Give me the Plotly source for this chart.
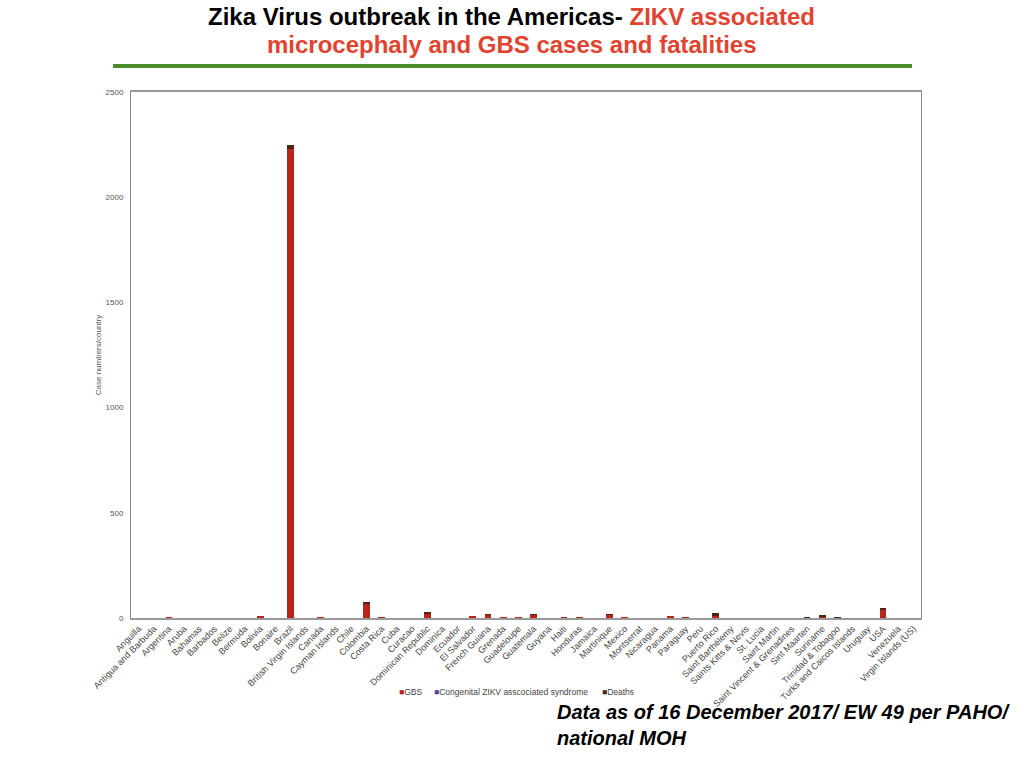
import plotly.graph_objs as go

countries = [
    "Anguilla", "Antigua and Barbuda", "Argentina", "Aruba", "Bahamas", "Barbados",
    "Belize", "Bermuda", "Bolivia", "Bonaire", "Brazil", "British Virgin Islands",
    "Canada", "Cayman Islands", "Chile", "Colombia", "Costa Rica", "Cuba", "Curacao",
    "Dominican Republic", "Dominica", "Ecuador", "El Salvador", "French Guiana",
    "Grenada", "Guadeloupe", "Guatemala", "Guyana", "Haiti", "Honduras", "Jamaica",
    "Martinique", "Mexico", "Montserrat", "Nicaragua", "Panama", "Paraguay", "Peru",
    "Puerto Rico", "Saint Barthélemy", "Saints Kitts & Nevis", "St. Lucia",
    "Saint Martin", "Saint Vincent & Grenadines", "Sint Maarten", "Suriname",
    "Trinidad & Tobagoo", "Turks and Caicos Islands", "Uruguay", "USA", "Venezuela",
    "Virgin Islands (US)",
]

# GBS cases per country
gbs = [0, 0, 2, 0, 0, 0, 0, 0, 9, 0, 2230, 0,
       2, 0, 0, 70, 2, 0, 0, 23, 0, 0, 6, 17,
       2, 2, 17, 0, 2, 2, 0, 17, 2, 0, 0, 6, 2, 0,
       14, 0, 0, 0, 0, 0, 1, 6, 1, 0, 0, 38, 0, 0]

# congenital ZIKV associated syndrome (not visible at this scale)
congenital = [0] * len(countries)

# deaths
deaths = [0, 0, 0, 0, 0, 0, 0, 0, 0, 0, 20, 0,
          0, 0, 0, 2, 0, 0, 0, 1, 0, 0, 0, 1,
          0, 0, 1, 0, 0, 0, 0, 1, 0, 0, 0, 0, 0, 0,
          8, 0, 0, 0, 0, 0, 1, 10, 1, 0, 0, 8, 0, 0]

y_ticks = [0, 500, 1000, 1500, 2000, 2500]

series_names = ["GBS", "Congenital ZIKV asscociated syndrome", "Deaths"]
series_colors = ["#b8261b", "#5b3f96", "#4e2412"]

fig = go.Figure()
for name, vals, color in zip(series_names, [gbs, congenital, deaths], series_colors):
    fig.add_trace(go.Bar(x=countries, y=vals, name=name, showlegend=False,
                         marker=dict(color=color, line=dict(width=0))))

fig.update_layout(
    barmode="stack",
    bargap=0.55,
    width=1024,
    height=768,
    margin=dict(l=131, r=103, t=92, b=150),
    paper_bgcolor="white",
    plot_bgcolor="white",
    font=dict(family="Liberation Sans, Arial, sans-serif", color="#555555", size=8),
)

fig.update_yaxes(
    range=[0, 2500], tickvals=y_ticks, showgrid=False, zeroline=False,
    showline=True, linecolor="#888888", linewidth=1, mirror=True, ticks="",
    ticklabelstandoff=5, tickfont=dict(size=8, color="#555555"),
    title=dict(text="Case numbers/country", font=dict(size=8, color="#555555"), standoff=2),
)
fig.update_xaxes(
    tickangle=-45, showgrid=False, showline=True, linecolor="#999999", linewidth=2,
    mirror=True, ticks="", tickfont=dict(size=9, color="#444444"),
)

# small legend with square keys, like the original
legend_x = [0.3367, 0.381, 0.5937]
for name, color, lx in zip(series_names, series_colors, legend_x):
    fig.add_annotation(
        xref="paper", yref="paper", x=lx, y=-0.1407, xanchor="left", yanchor="middle",
        text=f"<span style='color:{color}'>■</span>{name}", showarrow=False,
        font=dict(size=8.5, color="#444444"),
    )

# title
fig.add_annotation(
    xref="paper", yref="paper", x=0.482, y=1.1426, xanchor="center", yanchor="middle",
    borderpad=0,
    text="<b>Zika Virus outbreak in the Americas- <span style='color:#e2432f'>ZIKV associated</span></b>",
    showarrow=False, font=dict(family="Liberation Sans Narrow, Arial Narrow, sans-serif", size=24, color="black"),
)
fig.add_annotation(
    xref="paper", yref="paper", x=0.482, y=1.0894, xanchor="center", yanchor="middle",
    borderpad=0,
    text="<b>microcephaly and GBS cases and fatalities</b>",
    showarrow=False, font=dict(family="Liberation Sans Narrow, Arial Narrow, sans-serif", size=24, color="#e2432f"),
)
fig.add_shape(type="line", xref="paper", yref="paper", x0=-0.0228, x1=0.9886, y0=1.0494, y1=1.0494,
              line=dict(color="#4a8c2e", width=4))

# footnote
fig.add_annotation(
    xref="paper", yref="paper", x=0.5367, y=-0.154, xanchor="left", yanchor="top", align="left",
    text="<b><i>Data as of 16 December 2017/ EW 49 per PAHO/<br>national MOH</i></b>",
    showarrow=False, font=dict(family="Liberation Sans, Arial, sans-serif", size=20, color="black"),
)

# drop the default 8px body margin so the figure fills the window
fig.write_html("out.html", config={"displayModeBar": False},
               post_script="document.body.style.margin='0';")
